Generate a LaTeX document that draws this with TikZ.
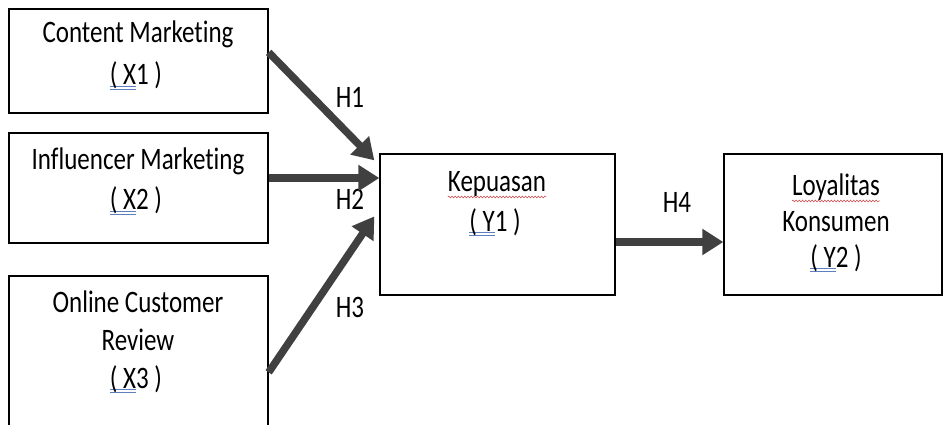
\documentclass[tikz,border=0pt]{standalone}
\usepackage{fontspec}
\setmainfont{Carlito}[Ligatures=NoCommon]
\usetikzlibrary{arrows.meta,decorations.pathmorphing}
\definecolor{arrowgray}{HTML}{404040}
\definecolor{ulblue}{HTML}{5B7FBF}
\definecolor{spellred}{HTML}{D04040}
\newsavebox\myulbox
\newlength\myulwd
\newcommand\dblu[1]{\sbox\myulbox{#1}\setlength\myulwd{\wd\myulbox}\rlap{\color{ulblue}\rule[-1.6pt]{\myulwd}{0.5pt}}\rlap{\color{ulblue}\rule[-3.8pt]{\myulwd}{0.5pt}}\usebox\myulbox}
\newcommand\tall[1]{\scalebox{1}[1.25]{#1}}
\tikzset{
  box/.style={draw=black, line width=1.3pt, rectangle, inner sep=0pt},
  txt/.style={inner sep=0pt, anchor=base, font=\fontsize{25}{30}\selectfont},
  arr/.style={draw=arrowgray, line width=7.5pt, -{Triangle[length=21pt,width=25pt]}},
  wavy/.style={draw=spellred, line width=0.5pt, decorate, decoration={snake, amplitude=0.9pt, segment length=3.2pt}}
}
\begin{document}
\begin{tikzpicture}[x=1pt,y=-1pt]
\useasboundingbox (0,0) rectangle (943,425);
\clip (0,0) rectangle (943,425);
% boxes
\node[box, minimum width=259pt, minimum height=104pt] (x1) at (138.5,61) {};
\node[box, minimum width=259pt, minimum height=110pt] (x2) at (138.5,188) {};
\node[box, minimum width=259pt, minimum height=224pt] (x3) at (138.5,388) {};
\node[box, minimum width=235pt, minimum height=141pt] (kep) at (497.5,224.5) {};
\node[box, minimum width=218pt, minimum height=141pt] (loy) at (833,224.5) {};
% texts
\node[txt] (x1a) at (138,43) {\tall{Content Marketing}};
\node[txt] (x1b) at (136,85) {\tall{\dblu{( X}1 )}};
\node[txt] (x2a) at (138,170) {\tall{Influencer Marketing}};
\node[txt] (x2b) at (136,210) {\tall{\dblu{( X}2 )}};
\node[txt] (x3a) at (138,312) {\tall{Online Customer}};
\node[txt] (x3b) at (138,350) {\tall{Review}};
\node[txt] (x3c) at (136,388) {\tall{\dblu{( X}3 )}};
\node[txt] (k1) at (497,192) {\tall{Kepuasan}};
\node[txt] (k2) at (495,231) {\tall{\dblu{( Y}1 )}};
\node[txt] (l1) at (836,196) {\tall{Loyalitas}};
\node[txt] (l2) at (836,231) {\tall{Konsumen}};
\node[txt] (l3) at (836,267) {\tall{\dblu{( Y}2 )}};
% spell-check marks
\draw[wavy] ([yshift=-5pt]k1.base west) -- ([yshift=-5pt]k1.base east);
\draw[wavy] ([yshift=-5pt]l1.base west) -- ([yshift=-5pt]l1.base east);
% hypothesis labels
\node[txt] (h1) at (350,108) {\tall{H1}};
\node[txt] (h2) at (350,210) {\tall{H2}};
\node[txt] (h3) at (350,317) {\tall{H3}};
\node[txt] (h4) at (677,212) {\tall{H4}};
% arrows
\draw[arr] ([yshift=-44pt]x1.north east) -- ([xshift=-5pt,yshift=-7pt]kep.north west);
\draw[arr] ([yshift=46.5pt]kep.west -| x2.east) -- ([yshift=46.5pt]kep.west);
\draw[arr] ([yshift=-97pt]x3.north east) -- ([xshift=-5pt,yshift=-63pt]kep.north west);
\draw[arr] ([yshift=-17.5pt]kep.east) -- ([yshift=-17.5pt]loy.west);
\end{tikzpicture}
\end{document}
